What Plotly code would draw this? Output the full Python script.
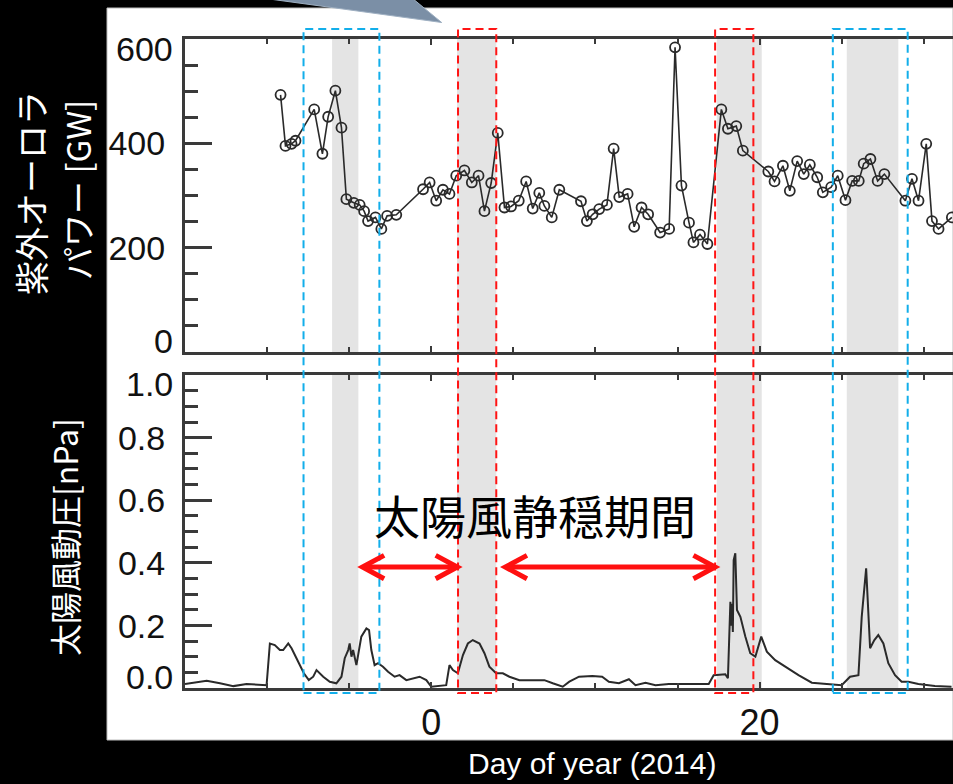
import plotly.graph_objects as go

W, H = 953, 784

# ---------------- data ----------------
uv_day = [-9.18, -8.88, -8.51, -8.27, -7.13, -6.63, -6.28, -5.84, -5.47, -5.17,
          -4.72, -4.36, -4.09, -3.85, -3.40, -3.04, -2.69, -2.13,
          -0.50, -0.10, 0.30, 0.71, 1.11, 1.52, 2.02, 2.47, 2.88, 3.24,
          3.65, 4.05, 4.46, 4.86, 5.33, 5.78, 6.18, 6.58, 6.89, 7.34,
          7.80, 9.12, 9.48, 9.83, 10.23, 10.70, 11.11, 11.45, 11.96, 12.36,
          12.81, 13.21, 13.94, 14.49, 14.85, 15.24, 15.70, 15.97, 16.37, 16.82,
          17.67, 18.07, 18.58, 18.98, 20.53, 20.91, 21.42, 21.84, 22.29, 22.69,
          23.06, 23.51, 23.85, 24.36, 24.76, 25.23, 25.64, 26.04, 26.34, 26.75,
          27.19, 27.60, 28.88, 29.28, 29.68, 30.15, 30.50, 30.90, 31.71]
uv_power = [493, 395, 399, 405, 465, 380, 451, 501, 430, 293,
            286, 282, 270, 251, 258, 236, 261, 263,
            312, 325, 290, 311, 303, 338, 348, 325, 338, 270,
            324, 420, 277, 279, 290, 327, 275, 305, 280, 258,
            311, 289, 251, 264, 274, 282, 390, 297, 303, 240,
            277, 264, 229, 236, 584, 319, 248, 210, 225, 207,
            465, 428, 433, 386, 346, 327, 357, 309, 366, 341,
            359, 335, 306, 316, 338, 291, 328, 328, 361, 370,
            328, 341, 290, 332, 290, 399, 251, 236, 258]

sw_day = [-15.0, -13.68, -12.87, -12.05, -11.25, -10.03, -9.83, -9.53, -9.22, -9.02,
          -8.71, -8.51, -8.21, -7.76, -7.46, -7.19, -6.99, -6.58, -6.18, -5.78,
          -5.47, -5.27, -5.06, -4.97, -4.86, -4.76, -4.56, -4.26, -3.95, -3.79,
          -3.65, -3.45, -3.24, -2.94, -2.63, -2.23, -1.93, -1.52, -0.71, -0.30,
          0.00, 0.91, 1.11, 1.32, 1.62, 1.93, 2.23, 2.53, 2.94, 3.24,
          3.54, 3.95, 4.36, 4.76, 5.37, 6.18, 6.89, 7.40, 8.01, 8.41,
          9.00, 9.81, 10.41, 10.82, 11.43, 12.04, 12.44, 13.05, 13.66, 14.47,
          16.09, 16.90, 17.20, 17.91, 18.07, 18.22, 18.27, 18.32, 18.37, 18.42,
          18.52, 18.57, 18.62, 18.83, 19.13, 19.43, 19.74, 20.10, 20.44, 20.95,
          21.56, 22.37, 23.18, 24.19, 25.00, 25.51, 26.02, 26.22, 26.49, 26.73,
          26.99, 27.23, 27.54, 27.84, 28.25, 28.65, 29.06, 29.67, 30.68, 31.69]
sw_pdyn = [0.014, 0.024, 0.016, 0.007, 0.014, 0.010, 0.143, 0.138, 0.122, 0.122,
           0.143, 0.128, 0.096, 0.048, 0.026, 0.037, 0.058, 0.037, 0.021, 0.016,
           0.037, 0.096, 0.122, 0.143, 0.101, 0.122, 0.074, 0.165, 0.191, 0.186,
           0.122, 0.074, 0.080, 0.069, 0.053, 0.037, 0.042, 0.026, 0.037, 0.026,
           0.005, 0.010, 0.074, 0.058, 0.048, 0.106, 0.143, 0.154, 0.143, 0.112,
           0.069, 0.048, 0.048, 0.037, 0.026, 0.026, 0.026, 0.016, 0.005, 0.021,
           0.037, 0.039, 0.037, 0.021, 0.016, 0.029, 0.010, 0.018, 0.010, 0.014,
           0.014, 0.014, 0.042, 0.045, 0.032, 0.276, 0.200, 0.270, 0.180, 0.409,
           0.431, 0.300, 0.250, 0.228, 0.165, 0.112, 0.101, 0.165, 0.117, 0.090,
           0.069, 0.042, 0.018, 0.014, 0.010, 0.037, 0.042, 0.228, 0.383, 0.128,
           0.154, 0.170, 0.143, 0.080, 0.042, 0.021, 0.021, 0.014, 0.007, 0.005]

gray_bands = [(-6.04, -4.44), (1.57, 3.96), (17.39, 20.13), (25.31, 28.45)]
blue_boxes = [(-7.78, -3.16), (24.46, 29.02)]
red_boxes = [(1.63, 3.96), (17.29, 19.62)]
quiet_arrows = [(-4.19, 1.59), (4.51, 17.29)]
arrow_level = 0.387

x_range = [-15, 31.78]
uv_ticks = [0, 200, 400, 600]
uv_ticktext = ["", "200", "400", ""]          # end labels drawn nudged inward below
sw_ticks = [0.0, 0.2, 0.4, 0.6, 0.8, 1.0]
sw_ticktext = ["", "0.2", "0.4", "0.6", "0.8", ""]
end_labels = [("y", 0, "0", 11), ("y", 600, "600", -10),
              ("y2", 0.0, "0.0", 11), ("y2", 1.0, "1.0", -9)]

# ---------------- helpers for pixel-placed decorations ----------------
def px(xp):
    return xp / W

def py(yp):
    return 1 - yp / H

X_DOM = [px(185), 1.0]
TOP_DOM = [py(352), py(39)]
BOT_DOM = [py(688.3), py(375)]

AX = "#3a3a3a"
LAT = "Liberation Sans, Arial, sans-serif"
TICKFONT = dict(family=LAT, size=34, color="#111111")
CJK = "Noto Sans CJK JP"

fig = go.Figure()

fig.add_trace(go.Scatter(
    x=uv_day, y=uv_power, mode="lines+markers", xaxis="x", yaxis="y",
    line=dict(color="#2a2a2a", width=1.6),
    marker=dict(symbol="circle-open", size=10, color="#2a2a2a", line=dict(width=1.8)),
    showlegend=False, hoverinfo="skip"))

fig.add_trace(go.Scatter(
    x=sw_day, y=sw_pdyn, mode="lines", xaxis="x2", yaxis="y2",
    line=dict(color="#2a2a2a", width=2.0),
    showlegend=False, hoverinfo="skip"))

shapes = []
shapes.append(dict(type="rect", xref="paper", yref="paper", layer="below",
                   x0=px(107), x1=1.0, y0=py(740), y1=py(8),
                   fillcolor="white", line=dict(color="#bdbdbd", width=1)))
for (a, b) in gray_bands:
    for yref in ("y domain", "y2 domain"):
        shapes.append(dict(type="rect", xref="x", yref=yref, layer="below",
                           x0=a, x1=b, y0=0, y1=1,
                           fillcolor="#e4e4e4", line=dict(width=0)))
for (a, b) in blue_boxes:
    shapes.append(dict(type="rect", xref="x", yref="paper", layer="above",
                       x0=a, x1=b, y0=py(693), y1=py(29),
                       line=dict(color="#12aeea", width=2, dash="8px,5px")))
for (a, b) in red_boxes:
    shapes.append(dict(type="rect", xref="x", yref="paper", layer="above",
                       x0=a, x1=b, y0=py(693), y1=py(29),
                       line=dict(color="#ff1414", width=2, dash="8px,5px")))
hw = 21.7 / 16.43
hh = 11.7 / 313.5
for (a, b) in quiet_arrows:
    shapes.append(dict(type="line", xref="x2", yref="y2", layer="above",
                       x0=a + 0.15, x1=b - 0.15, y0=arrow_level, y1=arrow_level,
                       line=dict(color="#ff1010", width=5)))
    shapes.append(dict(type="path", xref="x2", yref="y2", layer="above",
                       path=f"M {a+hw},{arrow_level+hh} L {a},{arrow_level} L {a+hw},{arrow_level-hh}",
                       line=dict(color="#ff1010", width=5)))
    shapes.append(dict(type="path", xref="x2", yref="y2", layer="above",
                       path=f"M {b-hw},{arrow_level+hh} L {b},{arrow_level} L {b-hw},{arrow_level-hh}",
                       line=dict(color="#ff1010", width=5)))
shapes.append(dict(type="path", xref="paper", yref="paper", layer="above",
                   path=f"M {px(262)},{py(-2)} L {px(441.7)},{py(22.5)} L {px(412)},{py(-2)} Z",
                   fillcolor="#7b8fa6", line=dict(color="#9fb0c2", width=1)))

annotations = [
    dict(text="紫外オーロラ", xref="paper", yref="paper", x=px(30), y=py(193),
         textangle=-90, showarrow=False, font=dict(family=CJK, size=34, color="white"),
         xanchor="center", yanchor="middle"),
    dict(text="パワー [GW]", xref="paper", yref="paper",
         x=px(77), y=py(190), textangle=-90, showarrow=False,
         font=dict(family=CJK, size=33, color="white"), xanchor="center", yanchor="middle"),
    dict(text="太陽風動圧[nPa]", xref="paper", yref="paper",
         x=px(64), y=py(537), textangle=-90, showarrow=False,
         font=dict(family=CJK, size=32, color="white"), xanchor="center", yanchor="middle"),
    dict(text="Day of year (2014)", xref="paper", yref="paper", x=px(592), y=py(763),
         showarrow=False, font=dict(family=LAT, size=30, color="white"),
         xanchor="center", yanchor="middle"),
    dict(text="太陽風静穏期間", xref="paper", yref="paper", x=px(535), y=py(514),
         showarrow=False, font=dict(family=CJK, size=46, color="black"),
         xanchor="center", yanchor="middle"),
]
for (yref, val, txt, shift) in end_labels:
    annotations.append(dict(text=txt, xref="paper", yref=yref, x=px(175), y=val,
                            xanchor="right", yanchor="middle", yshift=shift,
                            showarrow=False, font=TICKFONT))

xcommon = dict(range=x_range, showline=True, linecolor=AX, linewidth=3, mirror="allticks",
               ticks="inside", ticklen=6, tickwidth=2, tickcolor=AX, automargin=False,
               tick0=0, dtick=20, showgrid=False, zeroline=False,
               minor=dict(ticks="inside", ticklen=5, tickwidth=2, tickcolor=AX, dtick=5, tick0=0, showgrid=False))
ycommon = dict(showline=True, linecolor=AX, linewidth=3, mirror=False, automargin=False,
               ticks="inside", ticklen=27, tickwidth=3, tickcolor=AX,
               tickfont=TICKFONT, ticklabelstandoff=10, showgrid=False, zeroline=False)

fig.update_layout(
    width=W, height=H, autosize=False,
    margin=dict(l=0, r=0, t=0, b=0, pad=0, autoexpand=False),
    paper_bgcolor="black", plot_bgcolor="rgba(0,0,0,0)",
    xaxis=dict(domain=X_DOM, anchor="y", showticklabels=False, **xcommon),
    xaxis2=dict(domain=X_DOM, anchor="y2", matches="x", showticklabels=True,
                tickfont=dict(family=LAT, size=36, color="#111111"),
                ticklabelstandoff=0, **xcommon),
    yaxis=dict(domain=TOP_DOM, anchor="x", range=[0, 600], tickvals=uv_ticks, ticktext=uv_ticktext,
               minor=dict(ticks="inside", ticklen=13, tickwidth=3, tickcolor=AX, dtick=50, tick0=0, showgrid=False),
               **ycommon),
    yaxis2=dict(domain=BOT_DOM, anchor="x2", range=[0, 1], tickvals=sw_ticks, ticktext=sw_ticktext,
                minor=dict(ticks="inside", ticklen=13, tickwidth=3, tickcolor=AX, dtick=0.05, tick0=0, showgrid=False),
                **ycommon),
    shapes=shapes,
    annotations=annotations,
)

fig.write_html("out.html", config={"displayModeBar": False},
               post_script="document.body.style.margin='0';document.body.style.overflow='hidden';")
